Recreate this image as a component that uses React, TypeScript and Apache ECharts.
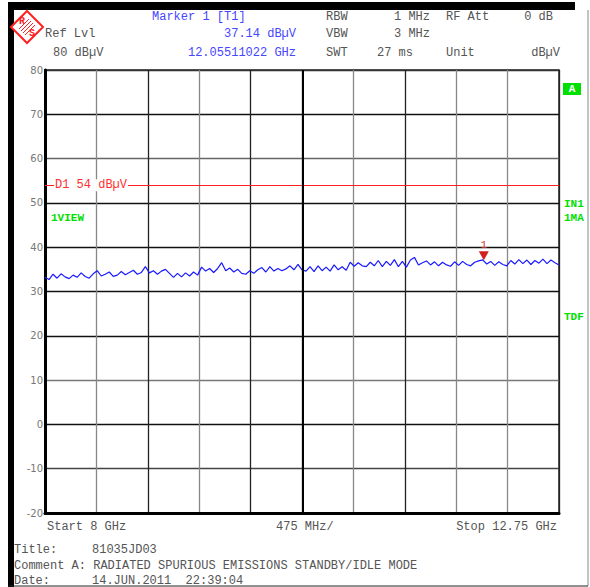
import React, { useEffect, useRef } from "react";
import * as echarts from "echarts";

const startGHz = 8;
const stopGHz = 12.75;
const yTicks = [-20, -10, 0, 10, 20, 30, 40, 50, 60, 70, 80];
const traceValues = [
  33.2, 32.7, 33.9, 33.0, 34.0, 33.3, 32.9, 33.7, 33.2, 34.2,
  33.4, 33.0, 34.0, 34.7, 33.5, 33.9, 34.4, 33.4, 33.7, 34.5,
  33.8, 34.3, 34.8, 33.9, 34.3, 35.6, 34.2, 34.7, 33.9, 34.6,
  35.0, 34.1, 33.2, 34.1, 33.3, 34.2, 33.5, 34.4, 33.7, 35.5,
  34.6, 35.2, 34.3, 35.2, 36.5, 34.7, 35.3, 34.4, 35.0, 34.1,
  33.9, 34.7, 34.1, 34.9, 35.4, 34.4, 35.6, 34.6, 35.2, 34.7,
  35.1, 35.8, 34.9, 36.1, 34.9, 34.6, 35.6, 34.5, 35.8, 34.7,
  35.5, 34.6, 36.0, 34.9, 35.6, 34.8, 36.6, 35.7, 36.5, 35.8,
  35.6, 36.6, 35.8, 37.0, 35.6, 36.8, 35.9, 37.2, 35.6, 36.8,
  35.5, 37.1, 37.7, 36.0, 36.5, 36.9, 36.0, 36.7, 35.8, 36.6,
  36.0, 35.7, 36.7, 35.9, 36.8, 36.1, 35.8, 36.6, 36.9, 37.14,
  36.2, 36.8, 35.9, 36.7, 36.1, 35.8, 37.0, 36.2, 37.2, 36.3,
  37.1, 36.1, 37.0, 36.4, 37.3, 36.3, 37.1, 36.5, 36.0,
];
const markerFreq = 12.05511022;
const markerLevel = 37.14;
const displayLine = 54;
const hGridColors = ["#000", "#444", "#111", "#777", "#111", "#111", "#111", "#111", "#666", "#111", "#333"];
const vGridColors = ["#222", "#888", "#222", "#888", "#222", "#111", "#888", "#222", "#888", "#888", "#222"];

const MONO = "'Courier New', 'Liberation Mono', monospace";

export default function App() {
  const ref = useRef<HTMLDivElement>(null);
  useEffect(() => {
    if (!ref.current) return;
    const chart = echarts.init(ref.current, null, { renderer: "svg" });
    const n = traceValues.length;
    const data = traceValues.map((v, i) => [startGHz + (i * (stopGHz - startGHz)) / (n - 1), v]);
    const t = (text: string, x: number, y: number, fill = "#555", align = "left", size = 12, weight = "normal") => ({
      type: "text",
      x,
      y,
      silent: true,
      style: {
        text,
        fill,
        font: `${weight} ${size}px ${MONO}`,
        align,
        textAlign: align,
        verticalAlign: "middle",
        textVerticalAlign: "middle",
      },
    });
    const blue = "#4646ff";
    const green = "#00e000";
    chart.setOption({
      animation: false,
      backgroundColor: "#fff",
      grid: { left: 45, top: 70, width: 514, height: 443, show: true, borderColor: "#222", borderWidth: 1.5 },
      xAxis: {
        type: "value",
        min: startGHz,
        max: stopGHz,
        interval: (stopGHz - startGHz) / 10,
        axisLabel: { show: false },
        axisTick: { show: false },
        axisLine: { show: true, onZero: false, lineStyle: { color: "#000", width: 3 } },
        splitLine: { show: true, lineStyle: { color: vGridColors, width: 1.3 } },
      },
      yAxis: {
        type: "value",
        min: yTicks[0],
        max: yTicks[yTicks.length - 1],
        interval: 10,
        axisLabel: { color: "#777", fontSize: 10, fontFamily: "DejaVu Sans", margin: 2 },
        axisTick: { show: false },
        axisLine: { show: true, onZero: false, lineStyle: { color: "#000", width: 3 } },
        splitLine: { show: true, lineStyle: { color: hGridColors, width: 1.3 } },
      },
      series: [
        {
          type: "line",
          data,
          showSymbol: false,
          symbol: "none",
          lineStyle: { color: "#1a1aff", width: 1.2 },
          silent: true,
          markLine: {
            silent: true,
            symbol: "none",
            data: [
              {
                yAxis: displayLine,
                lineStyle: { color: "#ff2020", width: 1, type: "solid" },
                label: {
                  show: true,
                  position: "insideStart",
                  formatter: "D1 54 dBµV",
                  color: "#ff3030",
                  fontFamily: MONO,
                  fontSize: 12,
                  backgroundColor: "#fff",
                  padding: [0, 1],
                  distance: 0,
                  offset: [9, 0],
                },
              },
              {
                xAxis: (startGHz + stopGHz) / 2,
                lineStyle: { color: "#000", width: 2, type: "solid" },
                label: { show: false },
              },
            ],
          },
          markPoint: {
            silent: true,
            data: [
              {
                coord: [markerFreq, markerLevel],
                symbol: "triangle",
                symbolRotate: 180,
                symbolSize: [10, 9],
                symbolOffset: [0, -4],
                itemStyle: { color: "#d02020" },
                label: {
                  show: true,
                  position: "top",
                  formatter: "1",
                  color: "#d03030",
                  fontFamily: MONO,
                  fontSize: 11,
                  distance: 1,
                },
              },
            ],
          },
        },
      ],
      graphic: [
        { type: "rect", shape: { x: 8, y: 2, width: 567, height: 8 }, style: { fill: "#000" }, silent: true },
        { type: "rect", shape: { x: 8, y: 2, width: 6, height: 585 }, style: { fill: "#000" }, silent: true },
        { type: "line", shape: { x1: 588, y1: 10, x2: 588, y2: 586 }, style: { stroke: "#888", lineWidth: 1 }, silent: true },
        { type: "line", shape: { x1: 8, y1: 586, x2: 588, y2: 586 }, style: { stroke: "#222", lineWidth: 1 }, silent: true },
        // R&S logo
        { type: "polygon", shape: { points: [[27, 11], [43, 27], [27, 43], [11, 27]] }, style: { fill: "#fff", stroke: "#ff2020", lineWidth: 2 }, silent: true },
        { type: "line", shape: { x1: 19, y1: 29, x2: 29, y2: 19 }, style: { stroke: "#ff2020", lineWidth: 1 }, silent: true },
        { type: "line", shape: { x1: 21, y1: 31, x2: 31, y2: 21 }, style: { stroke: "#ff2020", lineWidth: 1 }, silent: true },
        { type: "line", shape: { x1: 23, y1: 33, x2: 33, y2: 23 }, style: { stroke: "#ff2020", lineWidth: 1 }, silent: true },
        { type: "line", shape: { x1: 25, y1: 35, x2: 35, y2: 25 }, style: { stroke: "#ff2020", lineWidth: 1 }, silent: true },
        t("R", 22, 21, "#ff2020", "center", 10, "bold"),
        t("S", 32, 33, "#ff2020", "center", 10, "bold"),
        // header
        t("Marker 1 [T1]", 152, 17, blue),
        t("Ref Lvl", 45, 34),
        t("37.14 dBµV", 296, 34, blue, "right"),
        t("80 dBµV", 53, 53),
        t("12.05511022 GHz", 296, 53, blue, "right"),
        t("RBW", 326, 17),
        t("1 MHz", 430, 17, "#555", "right"),
        t("RF Att", 446, 17),
        t("0 dB", 553, 17, "#555", "right"),
        t("VBW", 326, 34),
        t("3 MHz", 430, 34, "#555", "right"),
        t("SWT", 326, 53),
        t("27 ms", 413, 53, "#555", "right"),
        t("Unit", 446, 53),
        t("dBµV", 560, 53, "#555", "right"),
        // side labels
        t("1VIEW", 51, 218, green, "left", 11, "bold"),
        { type: "rect", shape: { x: 563, y: 83, width: 18, height: 12 }, style: { fill: "#00e000" }, silent: true },
        t("A", 572, 89, "#fff", "center", 11, "bold"),
        t("IN1", 564, 204, green, "left", 11, "bold"),
        t("1MA", 564, 218, green, "left", 11, "bold"),
        t("TDF", 564, 317, green, "left", 11, "bold"),
        // footer
        t("Start 8 GHz", 47, 527),
        t("475 MHz/", 276, 527),
        t("Stop 12.75 GHz", 557, 527, "#555", "right"),
        t("Title:", 14, 550),
        t("81035JD03", 92, 550),
        t("Comment A: RADIATED SPURIOUS EMISSIONS STANDBY/IDLE MODE", 14, 566),
        t("Date:", 14, 581),
        t("14.JUN.2011  22:39:04", 92, 581),
      ],
    });
    return () => chart.dispose();
  }, []);
  return <div ref={ref} style={{ position: "fixed", left: 0, top: 0, width: 590, height: 587 }} />;
}
